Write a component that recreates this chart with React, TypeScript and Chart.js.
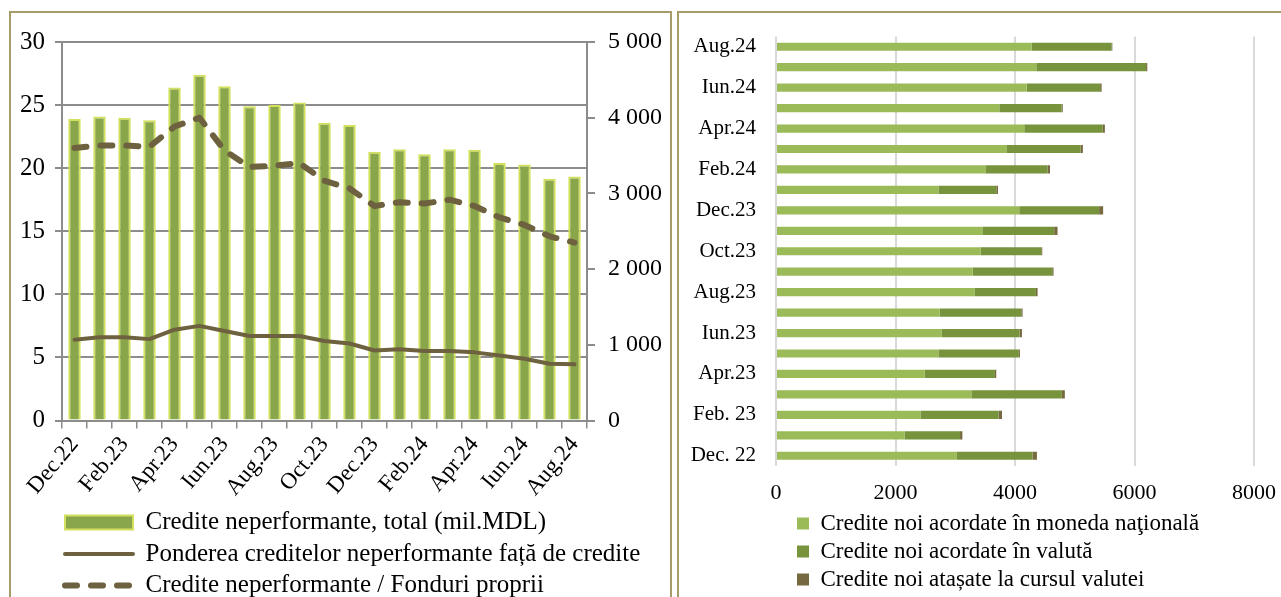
import React, { useEffect, useRef } from 'react';
import { Chart, registerables } from 'chart.js';

Chart.register(...registerables);

// ---------- Left chart data ----------
const months = [
  'Dec.22', 'Ian.23', 'Feb.23', 'Mar.23', 'Apr.23', 'Mai.23', 'Iun.23', 'Iul.23', 'Aug.23', 'Sep.23', 'Oct.23',
  'Noi.23', 'Dec.23', 'Ian.24', 'Feb.24', 'Mar.24', 'Apr.24', 'Mai.24', 'Iun.24', 'Iul.24', 'Aug.24',
];
// Credite neperformante, total (mil.MDL) - right axis
const nplTotal = [3983, 4017, 4000, 3967, 4400, 4567, 4417, 4150, 4167, 4200, 3933, 3905, 3550, 3583, 3517, 3583, 3575, 3400, 3383, 3192, 3222];
// Ponderea creditelor neperformante fata de credite (%) - left axis
const nplShare = [6.4, 6.6, 6.6, 6.45, 7.2, 7.5, 7.1, 6.7, 6.7, 6.7, 6.3, 6.1, 5.55, 5.65, 5.5, 5.5, 5.4, 5.15, 4.9, 4.5, 4.45];
// Credite neperformante / Fonduri proprii (%) - left axis
const nplOwnFunds = [21.6, 21.8, 21.8, 21.7, 23.3, 24.0, 21.4, 20.1, 20.2, 20.4, 19.0, 18.4, 17.0, 17.3, 17.2, 17.5, 17.0, 16.1, 15.5, 14.6, 14.1];

const leftAxisTicks = { min: 0, max: 30, step: 5 };
const rightAxisTicks = { min: 0, max: 5000, step: 1000 };

// ---------- Right chart data ----------
const newLoanMonths = [
  'Dec. 22', 'Ian.23', 'Feb. 23', 'Mar.23', 'Apr.23', 'Mai.23', 'Iun.23', 'Iul.23', 'Aug.23', 'Sep.23', 'Oct.23',
  'Noi.23', 'Dec.23', 'Ian.24', 'Feb.24', 'Mar.24', 'Apr.24', 'Mai.24', 'Iun.24', 'Iul.24', 'Aug.24',
];
const newNational = [3019, 2150, 2417, 3270, 2490, 2718, 2769, 2740, 3320, 3291, 3425, 3453, 4071, 2718, 3514, 3855, 4155, 3737, 4194, 4356, 4277];
const newForeign = [1275, 930, 1309, 1514, 1174, 1347, 1308, 1365, 1030, 1332, 1014, 1203, 1337, 969, 1031, 1241, 1314, 1042, 1231, 1838, 1337];
const newIndexed = [73, 39, 56, 50, 22, 17, 39, 22, 28, 22, 17, 56, 67, 28, 40, 40, 35, 20, 25, 20, 15];

const xAxisRight = { min: 0, max: 8000, step: 2000 };

const FONT = "'Liberation Serif', 'Times New Roman', serif";
const FRAME = '#A59C6A';
const AXIS_GRAY = '#8C8C8C';
const LINE_BROWN = '#6D6140';

const fmtThousands = (v: number) => String(v).replace(/\B(?=(\d{3})+(?!\d))/g, ' ');

const legendShift = (dx: number) => ({
  id: 'legendShift',
  afterLayout(chart: any) {
    const l = chart.legend;
    if (l) {
      l.left += dx;
      l.right += dx;
    }
  },
});

const noPad = (s: any) => {
  s.paddingTop = 0;
  s.paddingBottom = 0;
  s.paddingLeft = 0;
  s.paddingRight = 0;
};

export default function App() {
  const leftRef = useRef<HTMLCanvasElement | null>(null);
  const rightRef = useRef<HTMLCanvasElement | null>(null);

  useEffect(() => {
    Chart.defaults.font.family = FONT;
    Chart.defaults.color = '#000';

    const left = new Chart(leftRef.current as HTMLCanvasElement, {
      type: 'bar',
      data: {
        labels: months,
        datasets: [
          {
            type: 'bar',
            label: 'Credite neperformante, total (mil.MDL)',
            data: nplTotal,
            yAxisID: 'y1',
            backgroundColor: '#8AA64B',
            borderColor: '#D2E05E',
            borderWidth: 2,
            barPercentage: 0.5,
            categoryPercentage: 1,
            order: 2,
          } as any,
          {
            type: 'line',
            label: 'Ponderea creditelor neperformante față de credite',
            data: nplShare,
            yAxisID: 'y',
            borderColor: LINE_BROWN,
            backgroundColor: LINE_BROWN,
            borderWidth: 4,
            pointRadius: 0,
            borderCapStyle: 'round',
            borderJoinStyle: 'round',
            order: 1,
          } as any,
          {
            type: 'line',
            label: 'Credite neperformante / Fonduri proprii',
            data: nplOwnFunds,
            yAxisID: 'y',
            borderColor: LINE_BROWN,
            backgroundColor: LINE_BROWN,
            borderWidth: 6,
            borderDash: [12, 14],
            borderCapStyle: 'round',
            borderJoinStyle: 'round',
            pointRadius: 0,
            order: 1,
          } as any,
        ],
      },
      options: {
        responsive: false,
        animation: false,
        layout: { padding: { top: 29, left: 0, right: 0, bottom: 0 } },
        scales: {
          x: {
            offset: true,
            grid: { offset: true, drawOnChartArea: false, drawTicks: true, tickLength: 8, color: AXIS_GRAY, lineWidth: 1.5 },
            border: { color: AXIS_GRAY, width: 2 },
            ticks: {
              autoSkip: false,
              minRotation: 50,
              maxRotation: 50,
              padding: 3,
              font: { size: 23 },
              callback: (_v: any, i: number) => (i % 2 === 0 ? months[i] : ''),
            },
            afterFit: (s: any) => { s.height = 83; noPad(s); },
          },
          y: {
            position: 'left',
            min: leftAxisTicks.min,
            max: leftAxisTicks.max,
            ticks: { stepSize: leftAxisTicks.step, padding: 10, font: { size: 25 } },
            grid: { color: AXIS_GRAY, lineWidth: 2, tickLength: 7 },
            border: { color: AXIS_GRAY, width: 2 },
            afterFit: (s: any) => { s.width = 51; noPad(s); },
          },
          y1: {
            position: 'right',
            min: rightAxisTicks.min,
            max: rightAxisTicks.max,
            ticks: { stepSize: rightAxisTicks.step, padding: 13, font: { size: 24 }, callback: (v: any) => fmtThousands(Number(v)) },
            grid: { drawOnChartArea: false, color: AXIS_GRAY, lineWidth: 2, tickLength: 8 },
            border: { color: AXIS_GRAY, width: 2 },
            afterFit: (s: any) => { s.width = 82; noPad(s); },
          },
        },
        plugins: {
          tooltip: { enabled: false },
          legend: {
            position: 'bottom',
            align: 'start',
            labels: {
              usePointStyle: true,
              pointStyleWidth: 68,
              boxWidth: 68,
              boxHeight: 14,
              padding: 6.5,
              font: { size: 25 },
              color: '#000',
              generateLabels: (chart: any) => {
                const items = Chart.defaults.plugins.legend.labels.generateLabels(chart);
                items.sort((a: any, b: any) => a.datasetIndex - b.datasetIndex);
                return items.map((it: any) => {
                  const ds: any = chart.data.datasets[it.datasetIndex];
                  if (it.datasetIndex === 0) {
                    return { ...it, pointStyle: 'rect', fillStyle: ds.backgroundColor, strokeStyle: ds.borderColor, lineWidth: 2, lineDash: [] };
                  }
                  return {
                    ...it,
                    pointStyle: 'line',
                    strokeStyle: ds.borderColor,
                    lineWidth: ds.borderWidth,
                    lineDash: ds.borderDash || [],
                    lineDashOffset: 0,
                    lineCap: 'round',
                  };
                });
              },
            },
          },
        },
      } as any,
      plugins: [legendShift(47.5)],
    });

    const right = new Chart(rightRef.current as HTMLCanvasElement, {
      type: 'bar',
      data: {
        labels: newLoanMonths,
        datasets: [
          { label: 'Credite noi acordate în moneda naţională', data: newNational, backgroundColor: '#9BBB59' },
          { label: 'Credite noi acordate în valută', data: newForeign, backgroundColor: '#77933C' },
          { label: 'Credite noi atașate la cursul valutei', data: newIndexed, backgroundColor: '#76683F' },
        ],
      },
      options: {
        indexAxis: 'y',
        responsive: false,
        animation: false,
        datasets: { bar: { barPercentage: 0.4, categoryPercentage: 1 } },
        layout: { padding: { top: 23.5, right: 27, left: 0, bottom: 0 } },
        scales: {
          x: {
            stacked: true,
            min: xAxisRight.min,
            max: xAxisRight.max,
            ticks: { stepSize: xAxisRight.step, padding: 14, font: { size: 22 }, callback: (v: any) => String(v) },
            grid: { color: '#D9D9D9', lineWidth: 2, drawTicks: false },
            border: { display: false },
            afterFit: (s: any) => { s.height = 41; noPad(s); },
          },
          y: {
            stacked: true,
            reverse: true,
            grid: { display: false, drawTicks: false },
            border: { display: false },
            ticks: {
              autoSkip: false,
              padding: 20,
              font: { size: 21 },
              callback: (_v: any, i: number) => (i % 2 === 0 ? newLoanMonths[i] : ''),
            },
            afterFit: (s: any) => { s.width = 97; noPad(s); },
          },
        },
        plugins: {
          tooltip: { enabled: false },
          legend: {
            position: 'bottom',
            align: 'start',
            labels: { boxWidth: 12, boxHeight: 12, padding: 5, font: { size: 23 }, color: '#000' },
          },
        },
      } as any,
      plugins: [legendShift(113)],
    });

    return () => {
      left.destroy();
      right.destroy();
    };
  }, []);

  return (
    <div style={{ position: 'fixed', left: 0, top: 0, width: 1281, height: 597, overflow: 'hidden', background: '#fff' }}>
      <div style={{ position: 'absolute', left: 9, top: 11, width: 659, height: 640, border: `2px solid ${FRAME}` }} />
      <div style={{ position: 'absolute', left: 677, top: 11, width: 700, height: 640, border: `2px solid ${FRAME}` }} />
      <canvas ref={leftRef} width={658} height={595} style={{ position: 'absolute', left: 11, top: 13 }} />
      <canvas ref={rightRef} width={602} height={588} style={{ position: 'absolute', left: 679, top: 13 }} />
    </div>
  );
}
